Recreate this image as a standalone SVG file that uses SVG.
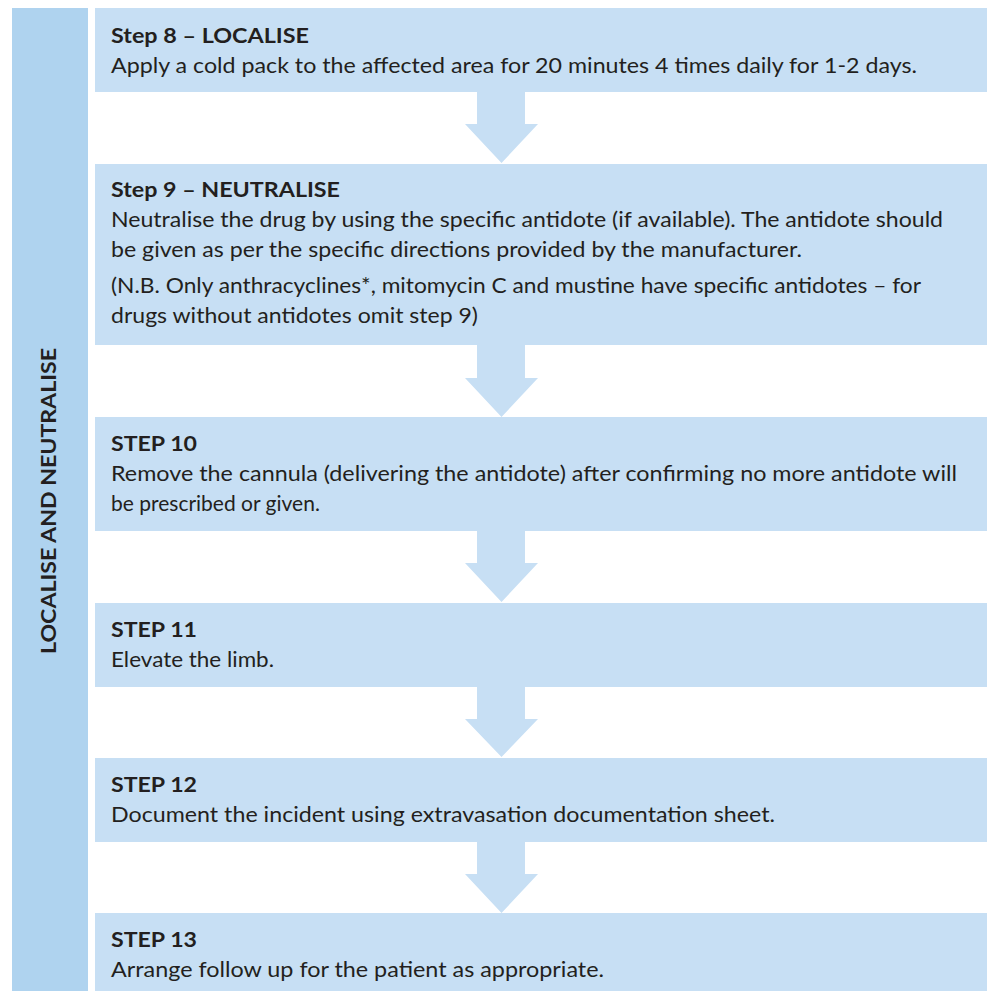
<svg xmlns="http://www.w3.org/2000/svg" width="987" height="991" viewBox="0 0 987 991">
<style>
.box{fill:#c7dff4}
.side{fill:#afd3ef}
.arr{fill:#c7dff4}
text{font-family:Lato,"Open Sans","Liberation Sans",sans-serif;font-size:21px;fill:#231f20}
.t{font-weight:bold}
</style>
<rect width="987" height="991" fill="#ffffff"/>
<g id="sidebar">
<rect class="side" x="12" y="8" width="76" height="983"/>
<text class="t" transform="translate(56,501) rotate(-90)" text-anchor="middle" textLength="306" lengthAdjust="spacingAndGlyphs">LOCALISE AND NEUTRALISE</text>
</g>
<g id="connectors">
<polygon class="arr" points="477,92 525,92 525,124 538,124 501.5,163 465,124 477,124"/>
<polygon class="arr" points="477,345 525,345 525,378 538,378 501.5,417 465,378 477,378"/>
<polygon class="arr" points="477,531 525,531 525,563 538,563 501.5,602 465,563 477,563"/>
<polygon class="arr" points="477,687 525,687 525,719 538,719 501.5,757 465,719 477,719"/>
<polygon class="arr" points="477,842 525,842 525,874 538,874 501.5,913 465,874 477,874"/>
</g>
<g id="step8">
<rect class="box" x="95" y="8" width="892" height="84"/>
<text class="t" x="111" y="43" textLength="198" lengthAdjust="spacingAndGlyphs">Step 8 – LOCALISE</text>
<text x="111" y="73" textLength="806" lengthAdjust="spacingAndGlyphs">Apply a cold pack to the affected area for 20 minutes 4 times daily for 1-2 days.</text>
</g>
<g id="step9">
<rect class="box" x="95" y="164" width="892" height="181"/>
<text class="t" x="111" y="197" textLength="229" lengthAdjust="spacingAndGlyphs">Step 9 – NEUTRALISE</text>
<text x="111" y="227" textLength="832" lengthAdjust="spacingAndGlyphs">Neutralise the drug by using the specific antidote (if available). The antidote should</text>
<text x="111" y="257" textLength="691" lengthAdjust="spacingAndGlyphs">be given as per the specific directions provided by the manufacturer.</text>
<text x="111" y="293" textLength="810" lengthAdjust="spacingAndGlyphs">(N.B. Only anthracyclines*, mitomycin C and mustine have specific antidotes – for</text>
<text x="111" y="323" textLength="367" lengthAdjust="spacingAndGlyphs">drugs without antidotes omit step 9)</text>
</g>
<g id="step10">
<rect class="box" x="95" y="417" width="892" height="114"/>
<text class="t" x="111" y="451" textLength="86" lengthAdjust="spacingAndGlyphs">STEP 10</text>
<text x="111" y="481" textLength="846" lengthAdjust="spacingAndGlyphs">Remove the cannula (delivering the antidote) after confirming no more antidote will</text>
<text x="111" y="511">be prescribed or given.</text>
</g>
<g id="step11">
<rect class="box" x="95" y="603" width="892" height="84"/>
<text class="t" x="111" y="637" textLength="86" lengthAdjust="spacingAndGlyphs">STEP 11</text>
<text x="111" y="667" textLength="163" lengthAdjust="spacingAndGlyphs">Elevate the limb.</text>
</g>
<g id="step12">
<rect class="box" x="95" y="758" width="892" height="84"/>
<text class="t" x="111" y="792" textLength="86" lengthAdjust="spacingAndGlyphs">STEP 12</text>
<text x="111" y="822" textLength="664" lengthAdjust="spacingAndGlyphs">Document the incident using extravasation documentation sheet.</text>
</g>
<g id="step13">
<rect class="box" x="95" y="913" width="892" height="78"/>
<text class="t" x="111" y="947" textLength="86" lengthAdjust="spacingAndGlyphs">STEP 13</text>
<text x="111" y="977" textLength="493" lengthAdjust="spacingAndGlyphs">Arrange follow up for the patient as appropriate.</text>
</g>
</svg>
